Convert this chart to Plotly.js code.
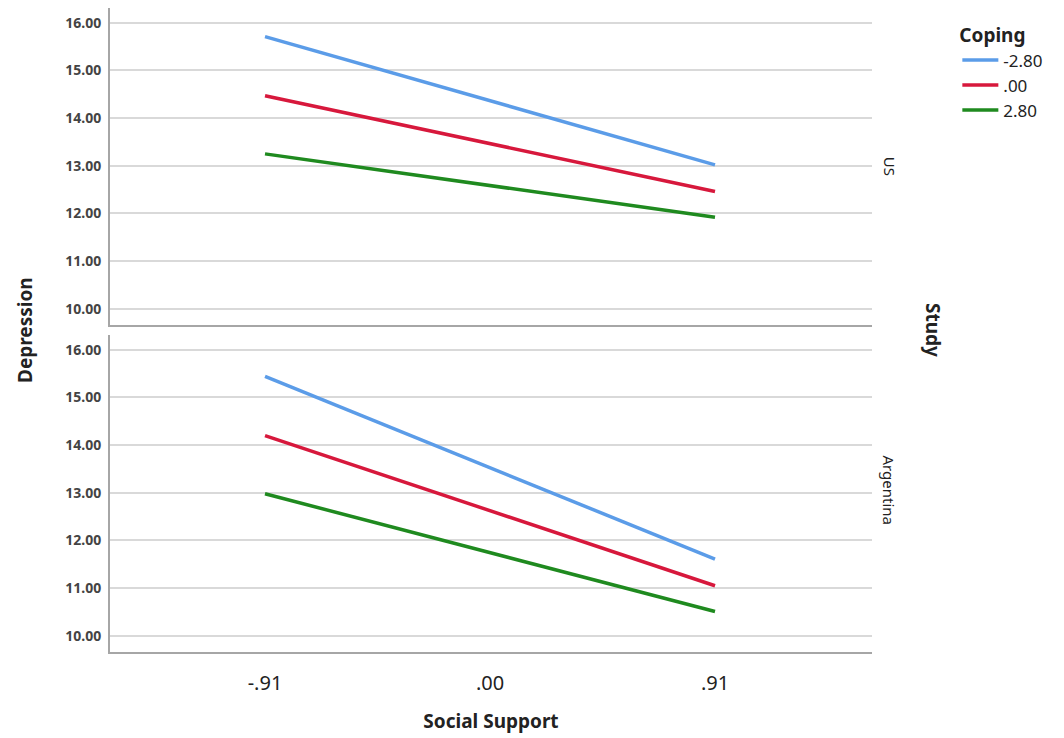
<!DOCTYPE html>
<html>
<head>
<meta charset="utf-8">
<script src="https://cdn.plot.ly/plotly-3.0.1.min.js"></script>
<style>html,body{margin:0;padding:0;background:#fff}#chart{width:1064px;height:738px}</style>
</head>
<body>
<div id="chart"></div>
<script>
const socialSupport = [-0.91, 0.91];
const xTickVals = [-0.91, 0, 0.91];
const xTickText = ['-.91', '.00', '.91'];
const copingLevels = ['-2.80', '.00', '2.80'];
const copingColors = ['#5B9CE8', '#D7183C', '#1F8A1F'];
const studies = ['US', 'Argentina'];
// Depression values [coping level][social support point]
const usDepression = [
  [15.71, 13.02],
  [14.47, 12.46],
  [13.25, 11.92]
];
const argentinaDepression = [
  [15.44, 11.61],
  [14.20, 11.05],
  [12.98, 10.51]
];

const traces = [];
copingLevels.forEach((lvl, i) => {
  traces.push({
    x: socialSupport, y: usDepression[i], xaxis: 'x2', yaxis: 'y2',
    mode: 'lines', name: lvl, legendgroup: lvl, showlegend: true,
    line: {color: copingColors[i], width: 3.5}
  });
  traces.push({
    x: socialSupport, y: argentinaDepression[i], xaxis: 'x', yaxis: 'y',
    mode: 'lines', name: lvl, legendgroup: lvl, showlegend: false,
    line: {color: copingColors[i], width: 3.5}
  });
});

const font = 'Noto Sans, Open Sans, sans-serif';
const yCommon = {
  range: [9.66, 16.31], tickvals: [10,11,12,13,14,15,16], tickformat: '.2f',
  showgrid: true, gridcolor: '#d9d9d9', gridwidth: 2, zeroline: false,
  showline: true, linecolor: '#a6a6a6', linewidth: 2, ticks: '',
  tickfont: {family: font, size: 14, color: '#444', weight: 'bold'}, fixedrange: true,
  ticklabelstandoff: 4
};
const xCommon = {
  range: [-1.537, 1.545], tickvals: xTickVals, ticktext: xTickText,
  showgrid: false, zeroline: false, showline: true, linecolor: '#a6a6a6', linewidth: 2,
  ticks: '', fixedrange: true
};

const layout = {
  width: 1064, height: 738,
  margin: {l: 110, r: 192, t: 8, b: 86},
  paper_bgcolor: '#fff', plot_bgcolor: '#fff',
  font: {family: font, color: '#222'},
  xaxis: Object.assign({}, xCommon, {
    anchor: 'y', showticklabels: true, ticklabelstandoff: 12,
    tickfont: {family: font, size: 20, color: '#222'},
    title: {text: '<b>Social Support</b>', font: {family: font, size: 19, color: '#222'}, standoff: 20}
  }),
  xaxis2: Object.assign({}, xCommon, {anchor: 'y2', matches: 'x', showticklabels: false}),
  yaxis: Object.assign({}, yCommon, {domain: [0, 0.4922], anchor: 'x'}),
  yaxis2: Object.assign({}, yCommon, {domain: [0.5078, 1], anchor: 'x2'}),
  legend: {
    x: 1.112, xanchor: 'left', y: 0.985, yanchor: 'top',
    title: {text: '<b>Coping</b>', font: {family: font, size: 19, color: '#222'}},
    font: {family: font, size: 17, color: '#222'},
    tracegroupgap: 0, itemwidth: 36, bgcolor: 'rgba(0,0,0,0)'
  },
  annotations: [
    {text: studies[0], xref: 'paper', yref: 'y2', x: 1.0, xshift: 30, y: 13, textangle: 90,
     showarrow: false, font: {family: font, size: 15, color: '#222'}},
    {text: studies[1], xref: 'paper', yref: 'y', x: 1.0, xshift: 29, y: 13.05, textangle: 90,
     showarrow: false, font: {family: font, size: 15, color: '#222'}},
    {text: '<b>Study</b>', xref: 'paper', yref: 'paper', x: 1.0, xshift: 76, y: 0.5, textangle: 90,
     showarrow: false, font: {family: font, size: 19, color: '#222'}},
    {text: '<b>Depression</b>', xref: 'paper', yref: 'paper', x: 0, xshift: -100, y: 0.5, textangle: -90,
     showarrow: false, font: {family: font, size: 19, color: '#222'}}
  ]
};

Plotly.newPlot('chart', traces, layout, {displayModeBar: false, staticPlot: true});
</script>
</body>
</html>
